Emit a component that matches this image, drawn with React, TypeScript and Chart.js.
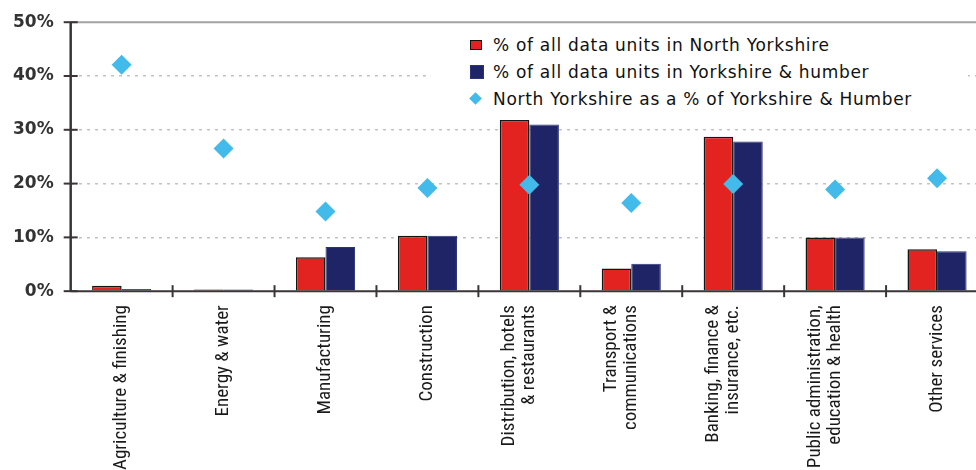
import React, { useEffect, useRef } from "react";
import { Chart, registerables } from "chart.js";

Chart.register(...registerables);

const categories: string[][] = [
  ["Agriculture & finishing"],
  ["Energy & water"],
  ["Manufacturing"],
  ["Construction"],
  ["Distribution, hotels", "& restaurants"],
  ["Transport &", "communications"],
  ["Banking, finance &", "insurance, etc."],
  ["Public administration,", "education & health"],
  ["Other services"],
];

const northYorkshire = [1.0, 0.3, 6.3, 10.3, 31.8, 4.2, 28.7, 10.0, 7.8];
const yorkshireHumber = [0.4, 0.3, 8.2, 10.3, 31.0, 5.1, 27.8, 10.0, 7.4];
const nyShareOfYH = [42.1, 26.5, 14.8, 19.2, 19.8, 16.4, 19.9, 18.9, 21.0];

const yTicks = [0, 10, 20, 30, 40, 50];

const seriesNames = [
  "% of all data units in North Yorkshire",
  "% of all data units in Yorkshire & humber",
  "North Yorkshire as a % of Yorkshire & Humber",
];

const RED = "#e2231f";
const NAVY = "#1e2465";
const CYAN = "#43bbea";

// centre multi-line rotated category labels on their tick
const centerLabelsPlugin = {
  id: "centerLabels",
  beforeDraw(chart: any) {
    const x = chart.scales.x;
    if (!x || typeof x._computeLabelItems !== "function") return;
    const items = x._labelItems || (x._labelItems = x._computeLabelItems(chart.chartArea));
    items.forEach((it: any) => {
      const n = Array.isArray(it.label) ? it.label.length : 1;
      if (n > 1 && !it._centered) {
        it.textOffset = -((n - 1) * it.font.lineHeight) / 2;
        it._centered = true;
      }
    });
  },
};

const axisPlugin = {
  id: "axisDecor",
  afterDraw(chart: any) {
    const { ctx, chartArea, scales } = chart;
    const x = scales.x;
    const y = scales.y;
    ctx.save();
    ctx.strokeStyle = "#a3a3a3";
    ctx.lineWidth = 2;
    ctx.beginPath();
    ctx.moveTo(chartArea.left, chartArea.top);
    ctx.lineTo(chartArea.right + 20, chartArea.top);
    ctx.stroke();
    ctx.strokeStyle = "#3a3536";
    ctx.lineWidth = 2.5;
    ctx.beginPath();
    ctx.moveTo(chartArea.left, chartArea.top);
    ctx.lineTo(chartArea.left, chartArea.bottom);
    ctx.stroke();
    ctx.lineWidth = 2;
    ctx.beginPath();
    ctx.moveTo(chartArea.left, chartArea.bottom);
    ctx.lineTo(chartArea.right + 20, chartArea.bottom);
    ctx.stroke();
    yTicks.forEach((v) => {
      const py = y.getPixelForValue(v);
      ctx.beginPath();
      ctx.moveTo(chartArea.left - 7, py);
      ctx.lineTo(chartArea.left + 7, py);
      ctx.stroke();
    });
    for (let i = 1; i <= categories.length; i++) {
      const px = x.getPixelForValue(i - 0.5);
      ctx.beginPath();
      ctx.moveTo(px, chartArea.bottom - 6);
      ctx.lineTo(px, chartArea.bottom + 6);
      ctx.stroke();
    }
    ctx.restore();
  },
};

export default function App() {
  const canvasRef = useRef<HTMLCanvasElement | null>(null);

  useEffect(() => {
    if (!canvasRef.current) return;
    const chart = new Chart(canvasRef.current, {
      type: "bar",
      data: {
        labels: categories,
        datasets: [
          {
            type: "line",
            label: seriesNames[2],
            data: nyShareOfYH,
            showLine: false,
            pointStyle: "rectRot",
            pointRadius: 10,
            pointBackgroundColor: CYAN,
            pointBorderWidth: 0,
            borderColor: CYAN,
            backgroundColor: CYAN,
            order: 0,
          } as any,
          {
            label: seriesNames[0],
            data: northYorkshire,
            backgroundColor: RED,
            borderColor: "#151515",
            borderWidth: 1.5,
            categoryPercentage: 0.58,
            barPercentage: 1,
            order: 1,
          },
          {
            label: seriesNames[1],
            data: yorkshireHumber,
            backgroundColor: NAVY,
            borderColor: "#2c3278",
            borderWidth: 1,
            categoryPercentage: 0.58,
            barPercentage: 1,
            order: 1,
          },
        ],
      },
      options: {
        responsive: false,
        animation: false,
        layout: { padding: { left: -4, right: 12, top: 12, bottom: 0 } },
        plugins: {
          legend: { display: false },
          tooltip: { enabled: false },
        },
        scales: {
          x: {
            grid: { display: false, drawTicks: false },
            border: { display: false },
            ticks: {
              minRotation: 90,
              maxRotation: 90,
              autoSkip: false,
              padding: 14,
              color: "#1a1a1a",
              font: {
                family: "'Liberation Sans Narrow', 'Roboto Condensed', Roboto, sans-serif",
                size: 19,
                lineHeight: 1.05,
              },
            },
          },
          y: {
            min: 0,
            max: 50,
            afterBuildTicks: (scale: any) => {
              scale.ticks = yTicks.map((v) => ({ value: v }));
            },
            grid: {
              drawTicks: false,
              lineWidth: 1.5,
              color: (c: any) =>
                c.tick && (c.tick.value === 0 || c.tick.value === 50) ? "rgba(0,0,0,0)" : "#c2c2c2",
            },
            border: { display: false, dash: [3, 5] },
            ticks: {
              padding: 17,
              color: "#333333",
              font: { family: "'DejaVu Sans', sans-serif", size: 17, weight: "bold" },
              callback: (v: any) => v + "%",
            },
          },
        },
      },
      plugins: [centerLabelsPlugin, axisPlugin],
    });
    return () => chart.destroy();
  }, []);

  const legendRow = (marker: React.ReactNode, text: string, top: number) => (
    <div
      style={{
        position: "absolute",
        left: 41,
        top,
        height: 27,
        display: "flex",
        alignItems: "center",
        whiteSpace: "nowrap",
      }}
    >
      <div style={{ width: 23, display: "flex", alignItems: "center" }}>{marker}</div>
      <span
        style={{
          fontFamily: "'DejaVu Sans', sans-serif",
          fontSize: 17,
          letterSpacing: 0.7,
          color: "#111111",
        }}
      >
        {text}
      </span>
    </div>
  );

  return (
    <div
      style={{
        position: "fixed",
        left: 0,
        top: 0,
        width: 976,
        height: 470,
        overflow: "hidden",
        background: "#ffffff",
      }}
    >
      <canvas
        ref={canvasRef}
        width={1000}
        height={489}
        style={{ display: "block", marginTop: -5 }}
      />
      <div
        style={{
          position: "absolute",
          left: 429,
          top: 24,
          width: 539,
          height: 88,
          background: "#ffffff",
        }}
      >
        {legendRow(
          <div style={{ width: 10, height: 8, background: RED, border: "1.5px solid #111" }} />,
          seriesNames[0],
          7
        )}
        {legendRow(
          <div style={{ width: 12, height: 12, background: NAVY, border: "1px solid #2c3278" }} />,
          seriesNames[1],
          34
        )}
        {legendRow(
          <div style={{ width: 9, height: 9, background: CYAN, transform: "rotate(45deg)", marginLeft: 1 }} />,
          seriesNames[2],
          61
        )}
      </div>
    </div>
  );
}
